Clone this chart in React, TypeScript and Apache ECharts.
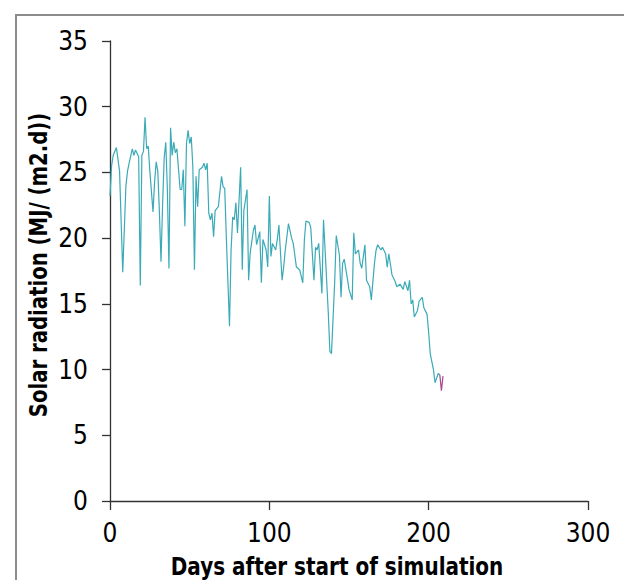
import React, { useEffect, useRef } from "react";
import * as echarts from "echarts";

const days: number[] = [
  0, 1, 2, 4, 6, 8, 10, 11, 12, 14, 15, 16, 18, 19, 20, 21, 22, 23, 24, 25, 27, 28, 29, 30, 31, 32, 33, 34, 35, 36, 37, 38, 39, 40, 41, 42,
  44, 45, 46, 47, 48, 49, 50, 51, 52, 53, 54, 55, 56, 58, 59, 60, 61, 62, 63, 64, 65, 66, 68, 70, 71, 72, 73, 75, 76, 77, 78, 79, 80, 82, 83, 84,
  86, 87, 88, 90, 91, 92, 94, 95, 96, 98, 99, 100, 101, 102, 104, 105, 106, 108, 109, 110, 112, 114, 115, 117, 119, 121, 122, 123, 125, 126, 128,
  129, 130, 131, 133, 134, 135, 137, 138, 139, 141, 142, 144, 145, 146, 147, 149, 150, 152, 153, 154, 156, 157, 158, 160, 161, 163, 164, 166, 167,
  168, 170, 171, 173, 174, 175, 177, 179, 180, 182, 184, 185, 187, 188, 189, 190, 191, 193, 194, 196, 197, 199, 200, 201, 203, 204, 206, 207,
];
const radiation: number[] = [
  23.2, 25.5, 26.3, 26.9, 25.1, 17.4, 24.0, 25.1, 25.7, 26.8, 26.3, 26.7, 26.2, 16.4, 26.3, 26.6, 29.2, 26.8, 27.0, 25.1, 22.0, 24.3, 25.8, 25.1, 22.0, 18.2, 22.5, 26.1, 27.3, 23.7, 17.7, 28.4, 26.3, 27.3, 26.5, 26.8,
  23.7, 23.7, 25.2, 20.9, 27.2, 28.2, 27.2, 27.7, 25.4, 17.6, 24.7, 22.4, 25.2, 25.4, 25.7, 25.2, 25.7, 21.9, 21.4, 21.9, 20.1, 22.1, 22.4, 24.7, 23.9, 23.8, 20.1, 13.3, 19.1, 21.6, 21.4, 22.7, 20.4, 25.4, 17.6, 22.1,
  23.7, 16.8, 18.9, 20.6, 21.0, 19.5, 20.5, 16.6, 19.9, 19.1, 17.8, 23.2, 18.6, 19.6, 19.1, 19.9, 21.0, 16.8, 17.8, 19.1, 21.1, 20.0, 19.6, 17.8, 17.6, 16.6, 19.9, 21.3, 21.2, 20.8, 16.8,
  19.3, 19.1, 19.6, 15.8, 21.4, 19.1, 14.3, 11.4, 11.2, 16.6, 20.2, 18.7, 15.5, 18.1, 18.4, 16.9, 16.1, 15.3, 20.4, 18.8, 19.1, 18.1, 17.7, 19.5, 16.8, 16.3, 15.3, 18.1, 19.1,
  19.5, 19.1, 19.3, 18.8, 17.8, 18.8, 17.2, 16.7, 16.3, 16.5, 16.1, 16.7, 16.0, 16.8, 15.0, 15.3, 14.0, 14.5, 15.2, 15.5, 14.7, 14.2, 12.8, 11.2, 10.0, 9.0, 9.7, 9.6,
];
const endDays: number[] = [207, 208, 209];
const endRadiation: number[] = [9.6, 8.4, 9.5];

const xTicks = { min: 0, max: 300, interval: 100 };
const yTicks = { min: 0, max: 35, interval: 5 };

const xTitle = "Days after start of simulation";
const yTitle = "Solar radiation (MJ/ (m2.d))";

export default function App() {
  const ref = useRef<HTMLDivElement>(null);
  useEffect(() => {
    if (!ref.current) return;
    const chart = echarts.init(ref.current, null, { renderer: "svg" });
    const tickFont = "'DejaVu Sans Condensed', 'DejaVu Sans', sans-serif";
    chart.setOption({
      animation: false,
      backgroundColor: "#ffffff",
      grid: { left: 110, right: 36, top: 41, bottom: 79, containLabel: false },
      xAxis: {
        type: "value",
        min: xTicks.min,
        max: xTicks.max,
        interval: xTicks.interval,
        splitLine: { show: false },
        axisLine: { show: true, onZero: false, lineStyle: { color: "#333", width: 1.3 } },
        axisTick: { show: true, inside: false, length: 9, lineStyle: { color: "#333", width: 1.3 } },
        axisLabel: { margin: 19, fontSize: 26, fontFamily: tickFont, color: "#000" },
      },
      yAxis: {
        type: "value",
        min: yTicks.min,
        max: yTicks.max,
        interval: yTicks.interval,
        splitLine: { show: false },
        axisLine: { show: true, lineStyle: { color: "#333", width: 1.3 } },
        axisTick: { show: true, inside: false, length: 8, lineStyle: { color: "#333", width: 1.3 } },
        axisLabel: { margin: 22, fontSize: 26, fontFamily: tickFont, color: "#000" },
      },
      graphic: [
        {
          type: "rect",
          shape: { x: 16, y: 15, width: 700, height: 700 },
          style: { fill: "none", stroke: "#8c8c8c", lineWidth: 2 },
          silent: true,
        },
        {
          type: "text",
          x: 337,
          y: 566,
          scaleX: 0.8,
          style: {
            text: xTitle,
            fontSize: 25,
            fontWeight: "bold",
            fontFamily: "'DejaVu Sans', sans-serif",
            fill: "#000",
            align: "center",
            verticalAlign: "middle",
          },
        },
        {
          type: "text",
          x: 39,
          y: 265,
          rotation: Math.PI / 2,
          scaleX: 0.82,
          style: {
            text: yTitle,
            fontSize: 24,
            fontWeight: "bold",
            fontFamily: "'DejaVu Sans', sans-serif",
            fill: "#000",
            align: "center",
            verticalAlign: "middle",
          },
        },
      ],
      series: [
        {
          type: "line",
          data: days.map((d, i) => [d, radiation[i]]),
          showSymbol: false,
          lineStyle: { color: "#3aaab6", width: 1.2 },
          itemStyle: { color: "#3aaab6" },
        },
        {
          type: "line",
          data: endDays.map((d, i) => [d, endRadiation[i]]),
          showSymbol: false,
          lineStyle: { color: "#a8478f", width: 1.2 },
          itemStyle: { color: "#a8478f" },
        },
      ],
    });
    return () => chart.dispose();
  }, []);
  return (
    <div
      ref={ref}
      style={{ position: "fixed", left: 0, top: 0, width: 624, height: 580 }}
    />
  );
}
